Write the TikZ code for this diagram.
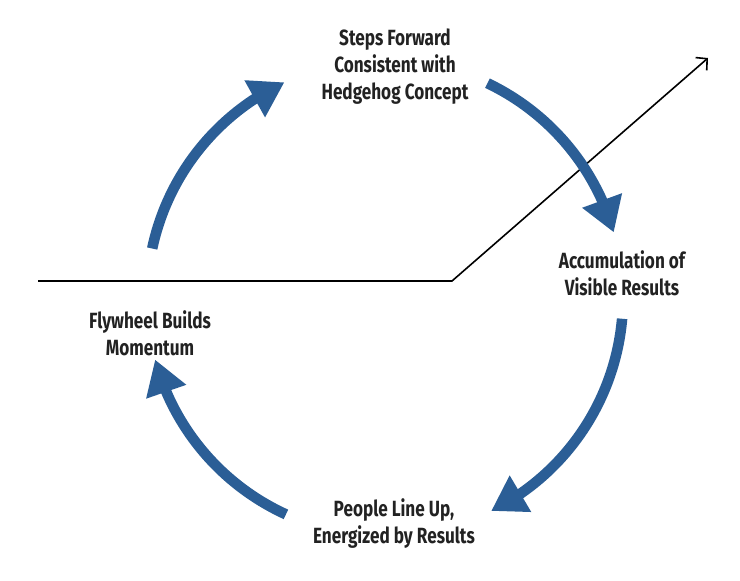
\documentclass[tikz,border=0pt]{standalone}
\usepackage{fontspec}
\setmainfont{Fira Sans}[FakeStretch=0.78]
\usetikzlibrary{arrows.meta,bending,calc}
\definecolor{flyblue}{HTML}{2B5E96}
\definecolor{labelgray}{HTML}{222222}
\tikzset{
  flyarrow/.style={draw=flyblue,line width=10.5pt,-{Triangle[length=34pt,width=40pt,flex]}},
  trend/.style={draw=black,line width=1.6pt,-{Straight Barb[length=8pt,width=17pt,line width=1.6pt]}},
  lbl/.style={font=\fontsize{22}{27}\selectfont\bfseries,text=labelgray,align=center,inner sep=0pt}
}
\begin{document}
\begin{tikzpicture}[x=1pt,y=1pt]
\useasboundingbox[fill=white] (0,-581) rectangle (740,0);
\coordinate (c) at (385,-298);
% trend line
\coordinate (L) at (38,-281);
\coordinate (K) at (452,-281);
\coordinate (T) at (708,-58);
\draw[trend] (L) -- (K) -- (T);
% cycle arrows
\draw[flyarrow] ($(c)+(168:238)$) arc[start angle=168,end angle=115,radius=238];
\draw[flyarrow] ($(c)+(64.5:238)$) arc[start angle=64.5,end angle=16,radius=238];
\draw[flyarrow] ($(c)+(-5:238)$) arc[start angle=-5,end angle=-63.5,radius=238];
\draw[flyarrow] ($(c)+(245.4:238)$) arc[start angle=245.4,end angle=195,radius=238];
% labels
\node[lbl] (top) at (395,-67) {Steps Forward\\Consistent with\\Hedgehog Concept};
\node[lbl] (right) at (622,-273) {Accumulation of\\Visible Results};
\node[lbl] (left) at (150,-333) {Flywheel Builds\\Momentum};
\node[lbl] (bottom) at (394,-524) {People Line Up,\\Energized by Results};
\end{tikzpicture}
\end{document}
